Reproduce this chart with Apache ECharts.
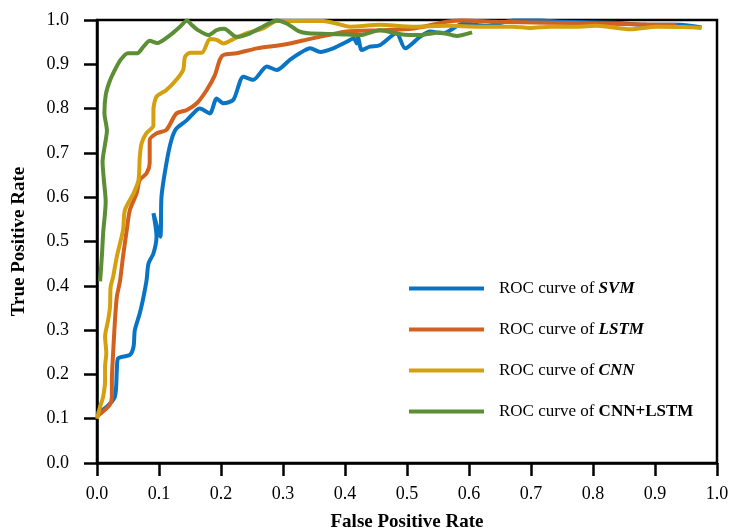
<!DOCTYPE html>
<html lang="en">
<head>
    <meta http-equiv="Content-Type" content="text/html; charset=utf-8"/>
    <title>ROC curves</title>
    <script type="text/javascript" src="https://cdn.jsdelivr.net/npm/echarts@6/dist/echarts.min.js"></script>
    <style>
        html, body { margin: 0; padding: 0; background: #fff; }
        #roc { width: 731px; height: 529px; }
    </style>
</head>
<body>
<div id="roc"></div>
<script type="text/javascript">
    // 读图得到的 [FPR, TPR] 点
    var svmPoints = [[0,0.112],[0.016,0.127],[0.029,0.15],[0.032,0.21],[0.034,0.236],[0.053,0.244],[0.059,0.263],[0.061,0.3],[0.069,0.338],[0.075,0.375],[0.08,0.413],[0.083,0.45],[0.091,0.473],[0.096,0.511],[0.091,0.564],[0.102,0.511],[0.104,0.601],[0.112,0.677],[0.12,0.729],[0.128,0.755],[0.145,0.774],[0.161,0.797],[0.166,0.8],[0.182,0.789],[0.193,0.823],[0.204,0.812],[0.22,0.82],[0.236,0.872],[0.252,0.865],[0.274,0.895],[0.29,0.887],[0.311,0.91],[0.327,0.925],[0.344,0.936],[0.36,0.928],[0.381,0.936],[0.403,0.951],[0.414,0.959],[0.419,0.947],[0.421,0.962],[0.427,0.932],[0.44,0.94],[0.456,0.943],[0.483,0.97],[0.497,0.936],[0.521,0.962],[0.537,0.974],[0.558,0.97],[0.591,0.992],[0.628,0.987],[0.672,0.999],[0.715,0.999],[0.752,0.996],[0.833,0.994],[0.887,0.989],[0.94,0.989],[0.975,0.983]];
    var lstmPoints = [[0,0.105],[0.02,0.13],[0.024,0.15],[0.024,0.187],[0.026,0.248],[0.029,0.323],[0.032,0.375],[0.037,0.41],[0.042,0.466],[0.048,0.526],[0.053,0.571],[0.064,0.609],[0.069,0.639],[0.08,0.654],[0.085,0.677],[0.085,0.729],[0.096,0.744],[0.112,0.752],[0.128,0.789],[0.145,0.797],[0.161,0.812],[0.177,0.842],[0.19,0.875],[0.198,0.91],[0.204,0.921],[0.225,0.925],[0.258,0.936],[0.3,0.944],[0.349,0.959],[0.403,0.974],[0.456,0.977],[0.51,0.981],[0.564,0.996],[0.59,0.999],[0.645,0.996],[0.725,0.994],[0.806,0.992],[0.887,0.99],[0.935,0.989]];
    var cnnPoints = [[0,0.1],[0.005,0.127],[0.01,0.15],[0.013,0.187],[0.013,0.217],[0.015,0.248],[0.013,0.285],[0.018,0.323],[0.021,0.353],[0.022,0.398],[0.026,0.42],[0.032,0.466],[0.042,0.526],[0.045,0.571],[0.059,0.609],[0.067,0.639],[0.069,0.691],[0.072,0.722],[0.08,0.745],[0.091,0.762],[0.091,0.797],[0.096,0.827],[0.112,0.842],[0.128,0.865],[0.139,0.887],[0.142,0.917],[0.15,0.926],[0.169,0.926],[0.182,0.957],[0.193,0.955],[0.204,0.947],[0.22,0.957],[0.241,0.97],[0.268,0.981],[0.29,0.998],[0.327,0.998],[0.365,0.998],[0.386,0.992],[0.408,0.985],[0.456,0.989],[0.51,0.985],[0.564,0.987],[0.618,0.985],[0.671,0.985],[0.698,0.982],[0.731,0.985],[0.774,0.985],[0.806,0.987],[0.86,0.979],[0.903,0.985],[0.945,0.984],[0.975,0.982]];
    var cnnLstmPoints = [[0.005,0.41],[0.008,0.47],[0.01,0.52],[0.014,0.59],[0.011,0.64],[0.009,0.68],[0.013,0.72],[0.016,0.75],[0.012,0.79],[0.014,0.83],[0.02,0.86],[0.028,0.885],[0.038,0.91],[0.05,0.925],[0.065,0.925],[0.075,0.94],[0.085,0.953],[0.097,0.948],[0.118,0.966],[0.134,0.985],[0.145,0.999],[0.152,0.99],[0.162,0.978],[0.18,0.966],[0.193,0.977],[0.205,0.98],[0.225,0.962],[0.247,0.97],[0.274,0.99],[0.29,0.999],[0.306,0.992],[0.325,0.975],[0.34,0.97],[0.39,0.968],[0.425,0.966],[0.456,0.977],[0.49,0.968],[0.52,0.966],[0.553,0.972],[0.58,0.964],[0.605,0.972]];

    var seriesNames = ['SVM', 'LSTM', 'CNN', 'CNN+LSTM'];
    var seriesColors = ['#0A74C4', '#D2601E', '#D4A010', '#5C8F35'];
    var allPoints = [svmPoints, lstmPoints, cnnPoints, cnnLstmPoints];

    var serif = '"Liberation Serif", "Times New Roman", serif';

    var chart = echarts.init(document.getElementById('roc'));

    var series = [];
    for (var i = 0; i < seriesNames.length; i++) {
        series.push({
            name: seriesNames[i],
            type: 'line',
            data: allPoints[i],
            smooth: 0.25,
            showSymbol: false,
            symbol: 'none',
            lineStyle: {width: 4, color: seriesColors[i]},
            itemStyle: {color: seriesColors[i]}
        });
    }

    var option = {
        animation: false,
        backgroundColor: '#fff',
        grid: {
            left: 97, right: 14, top: 20, bottom: 66,
            outerBoundsMode: 'none', containLabel: false,
            show: true, borderColor: '#000', borderWidth: 2.5, backgroundColor: 'transparent'
        },
        legend: {
            orient: 'vertical',
            left: 404, top: 275,
            itemWidth: 75, itemHeight: 4, itemGap: 24,
            icon: 'rect',
            data: seriesNames,
            formatter: function (name) {
                if (name === 'CNN+LSTM') return '{a|ROC curve of }{c|' + name + '}';
                return '{a|ROC curve of }{b|' + name + '}';
            },
            textStyle: {
                color: '#000', fontFamily: serif, fontSize: 17, padding: [0, 0, 0, 10],
                rich: {
                    a: {color: '#000', fontFamily: serif, fontSize: 17},
                    b: {color: '#000', fontFamily: serif, fontSize: 17, fontWeight: 'bold', fontStyle: 'italic'},
                    c: {color: '#000', fontFamily: serif, fontSize: 17, fontWeight: 'bold'}
                }
            }
        },
        xAxis: {
            type: 'value', min: 0, max: 1, interval: 0.1,
            name: 'False Positive Rate', nameLocation: 'middle', nameGap: 50,
            nameTextStyle: {color: '#000', fontFamily: serif, fontSize: 19, fontWeight: 'bold'},
            axisLine: {show: true, onZero: false, lineStyle: {color: '#000', width: 2.5}},
            axisTick: {show: true, length: 13, lineStyle: {color: '#000', width: 2.5}},
            axisLabel: {color: '#000', fontFamily: serif, fontSize: 18, margin: 22,
                formatter: function (v) { return v.toFixed(1); }},
            splitLine: {show: false}
        },
        yAxis: {
            type: 'value', min: 0, max: 1, interval: 0.1,
            name: 'True Positive Rate', nameLocation: 'middle', nameGap: 68,
            nameTextStyle: {color: '#000', fontFamily: serif, fontSize: 19, fontWeight: 'bold'},
            axisLine: {show: true, onZero: false, lineStyle: {color: '#000', width: 2.5}},
            axisTick: {show: true, length: 13, lineStyle: {color: '#000', width: 2.5}},
            axisLabel: {color: '#000', fontFamily: serif, fontSize: 18, margin: 28,
                formatter: function (v) { return v.toFixed(1); }},
            splitLine: {show: false}
        },
        series: series
    };

    chart.setOption(option);
</script>
</body>
</html>
